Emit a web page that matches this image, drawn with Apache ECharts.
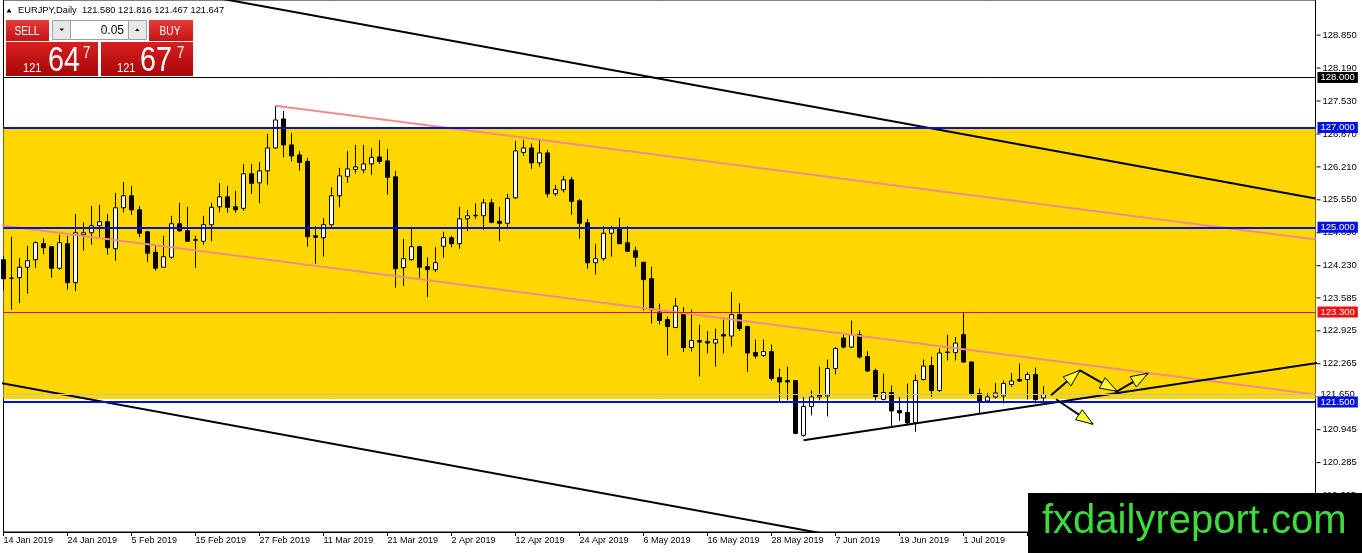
<!DOCTYPE html>
<html>
<head>
<meta charset="utf-8">
<title>EURJPY Daily</title>
<script src="https://cdn.jsdelivr.net/npm/echarts@6/dist/echarts.min.js"></script>
<style>
  html, body { margin: 0; padding: 0; background: #fff; }
  #chart { width: 1362px; height: 553px; }
</style>
</head>
<body>
<div id="chart"></div>
<script>
// date labels, one every 8 daily bars starting at bar 0
const tickLabels = ['14 Jan 2019', '24 Jan 2019', '5 Feb 2019', '15 Feb 2019', '27 Feb 2019',
  '11 Mar 2019', '21 Mar 2019', '2 Apr 2019', '12 Apr 2019', '24 Apr 2019', '6 May 2019',
  '16 May 2019', '28 May 2019', '7 Jun 2019', '19 Jun 2019', '1 Jul 2019', '11 Jul 2019'];

const opens = [124.35,123.98,123.99,124.20,124.35,124.67,124.61,124.18,124.67,123.89,
  124.85,124.89,125.03,125.11,124.57,125.39,125.63,125.35,124.91,124.50,
  124.20,124.40,125.07,124.93,124.75,124.72,125.05,125.41,125.61,125.41,
  125.38,126.07,125.89,126.13,126.59,127.17,126.65,126.45,126.32,124.83,
  124.79,125.05,125.63,126.02,126.16,126.15,126.27,126.41,126.33,126.01,
  124.19,124.35,124.61,124.21,124.15,124.62,124.79,124.67,125.17,125.23,
  125.23,125.49,125.12,125.08,125.59,126.50,126.59,126.29,126.49,125.67,
  125.75,125.95,125.53,125.09,124.29,124.37,124.88,124.97,124.69,124.53,
  124.30,123.97,123.30,123.15,122.99,123.25,122.59,122.73,122.71,122.68,
  122.85,122.82,123.25,123.01,122.49,122.43,122.51,121.99,121.93,121.93,
  120.83,121.41,121.60,121.62,122.17,122.78,122.60,122.85,122.41,122.13,
  121.55,121.69,121.33,121.29,121.08,121.95,122.23,121.73,122.49,122.49,
  122.85,122.30,121.67,121.52,121.60,121.62,121.85,121.95,121.95,122.05,
  121.580];

const highs = [124.43,124.81,124.38,124.63,124.72,124.78,124.61,124.85,124.83,125.27,
  125.10,125.43,125.45,125.27,125.69,125.91,125.83,125.43,124.93,124.63,
  124.83,125.23,125.49,125.41,124.83,125.23,125.49,125.89,125.83,125.73,
  126.27,126.27,126.31,126.87,127.43,127.33,126.89,126.53,126.39,125.03,
  125.18,125.80,126.19,126.53,126.65,126.65,126.59,126.75,126.57,126.13,
  124.77,125.00,124.63,124.40,124.60,124.91,124.83,125.41,125.35,125.48,
  125.57,125.57,125.41,125.67,126.73,126.75,126.68,126.75,126.55,125.85,
  126.03,126.01,125.57,125.17,124.67,125.03,125.03,125.19,125.03,124.61,
  124.30,124.21,123.47,123.21,123.58,123.40,123.35,123.05,122.92,122.97,
  123.15,123.70,123.48,123.03,122.75,122.75,122.65,122.17,122.21,121.93,
  121.60,121.73,122.21,122.35,122.60,122.87,123.13,122.93,122.52,122.17,
  122.07,121.83,121.60,121.87,122.05,122.35,122.41,122.57,122.85,122.80,
  123.28,122.31,121.77,121.68,121.88,121.93,122.08,122.27,122.10,122.19,
  121.816];

const lows = [123.73,123.35,123.48,123.67,124.18,124.46,123.99,124.15,123.75,123.72,
  124.53,124.65,124.81,124.45,124.33,125.30,125.25,124.80,124.30,124.13,
  124.20,124.37,124.91,124.72,124.18,124.65,124.72,125.30,125.29,125.29,
  125.33,125.67,125.48,125.85,126.57,126.40,126.32,126.13,124.61,124.27,
  124.41,125.00,125.40,125.89,126.08,126.08,126.05,126.27,125.65,123.79,
  123.82,124.33,123.99,123.60,124.10,124.39,124.60,124.57,124.92,125.17,
  124.95,125.08,124.72,125.00,125.57,126.43,126.17,126.21,125.60,125.63,
  125.70,125.25,124.77,124.17,124.05,124.33,124.41,124.67,124.50,124.21,
  123.33,123.07,123.05,122.43,122.99,122.50,122.51,122.01,122.47,122.21,
  122.47,122.61,122.92,122.10,122.37,122.40,121.93,121.52,121.53,120.85,
  120.80,121.23,121.53,121.21,122.05,122.57,122.58,122.37,122.10,121.53,
  121.53,120.99,121.12,121.03,120.90,121.93,121.60,121.70,122.33,122.33,
  122.28,121.63,121.27,121.50,121.57,121.47,121.80,121.90,121.55,121.47,
  121.467];

const closes = [123.97,123.98,124.20,124.33,124.69,124.59,124.18,124.69,123.89,124.89,
  124.89,125.03,125.11,124.59,125.39,125.63,125.35,124.88,124.48,124.18,
  124.41,125.07,124.93,124.72,124.74,125.05,125.40,125.61,125.40,125.35,
  126.07,125.88,126.13,126.59,127.15,126.65,126.43,126.30,124.81,124.80,
  125.05,125.63,126.03,126.17,126.21,126.27,126.40,126.32,126.00,124.17,
  124.37,124.61,124.20,124.15,124.29,124.79,124.67,125.17,125.23,125.24,
  125.49,125.10,125.08,125.58,126.53,126.59,126.29,126.49,125.67,125.76,
  125.95,125.52,125.08,124.29,124.37,124.88,124.97,124.67,124.52,124.40,
  123.95,123.35,123.13,123.01,123.42,122.59,122.73,122.70,122.68,122.75,
  122.82,123.25,122.97,122.48,122.42,122.51,121.97,121.90,121.90,120.87,
  121.41,121.60,121.63,122.17,122.57,122.60,122.85,122.40,122.12,121.61,
  121.69,121.32,121.28,121.08,121.93,122.22,121.73,122.48,122.50,122.68,
  122.30,121.65,121.50,121.60,121.68,121.87,121.92,121.92,122.05,121.55,
  121.647];

// right price scale
const priceTicks = [128.850, 128.190, 127.530, 126.870, 126.210, 125.550, 124.890, 124.230,
  123.585, 122.925, 122.265, 121.605, 120.945, 120.285, 119.625];
const priceMin = 118.894;
const priceMax = 129.554;
const slotCount = 165;           // bars + empty space on the right

// horizontal levels
const blueLevels = [127.0, 125.0, 121.5];
const blackLevel = 128.0;
const redLevel = 123.3;
const bidPrice = 121.647;
const askPrice = 121.677;
const zone = [127.0, 121.56];

// trend lines as [barIndex, price] anchors
const channelUpper = [[20, 129.792], [164, 125.576]];
const channelLower = [[-1, 121.90], [110, 118.641]];
const pinkUpper = [[34, 127.434], [164, 124.756]];
const pinkLower = [[-1, 125.05], [164, 121.65]];
const supportLine = [[100, 120.734], [169.8, 122.414]];

// forecast arrows: [x1, p1, x2, p2]
const forecastArrows = [
  [130.94, 121.634, 134.56, 122.134],
  [134.56, 122.134, 139.19, 121.714],
  [139.19, 121.714, 143.06, 122.074],
  [131.56, 121.554, 136.19, 121.054]
];

const FONT = 'Liberation Sans';
const categories = [];
for (let i = 0; i < slotCount; i++) {
  categories.push(i % 8 === 0 && tickLabels[i / 8] ? tickLabels[i / 8] : '');
}
const candles = opens.map((o, i) => [o, closes[i], lows[i], highs[i]]);
const last = opens.length - 1;

function levelLine(value, color, width, labelBg, labelColor) {
  return {
    yAxis: value,
    lineStyle: {color: color, width: width, type: 'solid'},
    label: {
      show: true, position: 'end', distance: 2,
      formatter: p => p.value.toFixed(3),
      color: labelColor, backgroundColor: labelBg,
      fontFamily: FONT, fontSize: 9.5, lineHeight: 10, padding: [1, 3, 0, 3]
    }
  };
}

function trend(data, color, clip) {
  return {
    type: 'line', xAxisIndex: 1, yAxisIndex: 0, data: data,
    showSymbol: false, symbol: 'none', clip: clip, silent: true, z: 4,
    lineStyle: {color: color, width: 2}
  };
}

function renderArrow(params, api) {
  const a = api.coord([api.value(0), api.value(1)]);
  const b = api.coord([api.value(2), api.value(3)]);
  const dx = b[0] - a[0], dy = b[1] - a[1];
  const len = Math.hypot(dx, dy) || 1;
  const ux = dx / len, uy = dy / len;
  const hl = 17, hw = 6;
  const bx = b[0] - ux * hl, by = b[1] - uy * hl;
  return {
    type: 'group',
    children: [
      {type: 'line', shape: {x1: a[0], y1: a[1], x2: b[0], y2: b[1]},
        style: {stroke: '#000', lineWidth: 2}},
      {type: 'polygon',
        shape: {points: [[b[0], b[1]], [bx - uy * hw, by + ux * hw], [bx + uy * hw, by - ux * hw]]},
        style: {fill: '#ffff2a', stroke: '#000', lineWidth: 1}}
    ]
  };
}

function txt(x, y, text, size, color, opts) {
  opts = opts || {};
  return {
    type: 'text', x: x, y: y, z: 100, scaleX: opts.scaleX || 1,
    style: {
      text: text, x: 0, y: 0, fill: color,
      font: (opts.weight || 'normal') + ' ' + size + 'px "' + FONT + '"',
      align: opts.align || 'left', verticalAlign: 'middle',
      textAlign: opts.align || 'left', textVerticalAlign: 'middle'
    }
  };
}

function box(x, y, w, h, fill, stroke) {
  return {type: 'rect', z: 99, shape: {x: x, y: y, width: w, height: h},
    style: {fill: fill, stroke: stroke || null, lineWidth: stroke ? 1 : 0}};
}

const redBtn = () => new echarts.graphic.LinearGradient(0, 0, 0, 1,
  [{offset: 0, color: '#e63b3b'}, {offset: 1, color: '#c41414'}]);
const redBig = () => new echarts.graphic.LinearGradient(0, 0, 0, 1,
  [{offset: 0, color: '#d82020'}, {offset: 1, color: '#a80606'}]);

function priceParts(p) {
  const s = p.toFixed(3);
  return [s.slice(0, 3), s.slice(4, 6), s.slice(6)];
}
const bidParts = priceParts(bidPrice);
const askParts = priceParts(askPrice);
const header = 'EURJPY,Daily  ' + [opens[last], highs[last], lows[last], closes[last]]
  .map(v => v.toFixed(3)).join(' ');

const chart = echarts.init(document.getElementById('chart'), null, {renderer: 'canvas'});

chart.setOption({
  animation: false,
  backgroundColor: '#fff',
  grid: {left: 3.5, right: 46.5, top: -1, bottom: 21, show: true,
    borderColor: '#000', borderWidth: 1, backgroundColor: 'transparent'},
  xAxis: [
    {
      type: 'category', data: categories, boundaryGap: false,
      axisLine: {lineStyle: {color: '#000', width: 1}},
      axisTick: {show: true, length: 4, interval: (i, v) => v !== '', lineStyle: {color: '#000'}},
      axisLabel: {interval: (i, v) => v !== '', align: 'left', margin: 4,
        color: '#000', fontFamily: FONT, fontSize: 9},
      splitLine: {show: false}
    },
    {type: 'value', min: 0, max: slotCount - 1, show: false}
  ],
  yAxis: [
    {
      type: 'value', position: 'right', min: priceMin, max: priceMax,
      axisLine: {show: true, lineStyle: {color: '#000', width: 1}},
      axisTick: {show: false},
      axisLabel: {
        customValues: priceTicks, margin: 1,
        formatter: v => '{t|}{v|' + v.toFixed(3) + '}',
        rich: {
          t: {width: 4, height: 1, backgroundColor: '#000'},
          v: {color: '#000', fontFamily: FONT, fontSize: 9.5, padding: [0, 0, 0, 2]}
        }
      },
      splitLine: {show: false}
    }
  ],
  series: [
    {
      type: 'candlestick', xAxisIndex: 0, yAxisIndex: 0, data: candles,
      barWidth: 5, z: 3, silent: true,
      itemStyle: {color: '#fff', color0: '#000', borderColor: '#000', borderColor0: '#000', borderWidth: 1},
      markArea: {
        silent: true,
        itemStyle: {color: '#ffd700'},
        data: [[{yAxis: zone[0]}, {yAxis: zone[1]}]]
      },
      markLine: {
        silent: true, symbol: ['none', 'none'], animation: false,
        data: [
          levelLine(bidPrice, '#c0c0c0', 1, '#fff', '#000'),
          levelLine(blackLevel, '#000', 1, '#000', '#fff'),
          levelLine(redLevel, '#e01010', 1, '#f01010', '#fff')
        ].concat(blueLevels.map(v => levelLine(v, '#0010d8', 2, '#0010e8', '#fff')))
      }
    },
    trend(channelUpper, '#000', true),
    trend(channelLower, '#000', true),
    trend(pinkUpper, '#ef8c8c', true),
    trend(pinkLower, '#ef8c8c', true),
    trend(supportLine, '#000', false),
    {
      type: 'custom', xAxisIndex: 1, yAxisIndex: 0, data: forecastArrows,
      renderItem: renderArrow, encode: {x: [0, 2], y: [1, 3]}, clip: false, z: 6, silent: true
    }
  ],
  graphic: {
    elements: [
      {type: 'polygon', z: 100, shape: {points: [[6.5, 12.5], [11.5, 12.5], [9, 8.5]]}, style: {fill: '#000'}},
      txt(18, 10.5, header, 9.3, '#000'),

      box(6, 20, 43, 21, redBtn()),
      txt(27, 31, 'SELL', 13, '#fff', {align: 'center', scaleX: 0.78}),
      box(52.5, 20.5, 18, 19, '#e8e8e8', '#a0a0a0'),
      {type: 'polygon', z: 100, shape: {points: [[59.5, 28.5], [64, 28.5], [61.75, 31]]}, style: {fill: '#000'}},
      box(70.5, 20.5, 58, 19, '#fff', '#a0a0a0'),
      txt(124, 30.5, '0.05', 12, '#000', {align: 'right'}),
      box(128.5, 20.5, 18, 19, '#e8e8e8', '#a0a0a0'),
      {type: 'polygon', z: 100, shape: {points: [[135, 31], [139.5, 31], [137.25, 28.5]]}, style: {fill: '#000'}},
      box(149, 20, 44, 21, redBtn()),
      txt(170, 31, 'BUY', 13, '#fff', {align: 'center', scaleX: 0.78}),

      box(6, 42, 92, 34, redBig()),
      txt(23, 68.4, bidParts[0], 13, '#fff', {scaleX: 0.85}),
      txt(48, 61.6, bidParts[1], 35, '#fff', {scaleX: 0.82}),
      txt(83, 53.6, bidParts[2], 16, '#fff', {scaleX: 0.82}),
      box(101, 42, 92, 34, redBig()),
      txt(117, 68.4, askParts[0], 13, '#fff', {scaleX: 0.85}),
      txt(140, 61.6, askParts[1], 35, '#fff', {scaleX: 0.82}),
      txt(177, 53.6, askParts[2], 16, '#fff', {scaleX: 0.82}),

      box(1028, 493, 334, 60, '#000'),
      txt(1042, 522, 'fxdailyreport.com', 40, '#3ddc3d')
    ]
  }
});
</script>
</body>
</html>
